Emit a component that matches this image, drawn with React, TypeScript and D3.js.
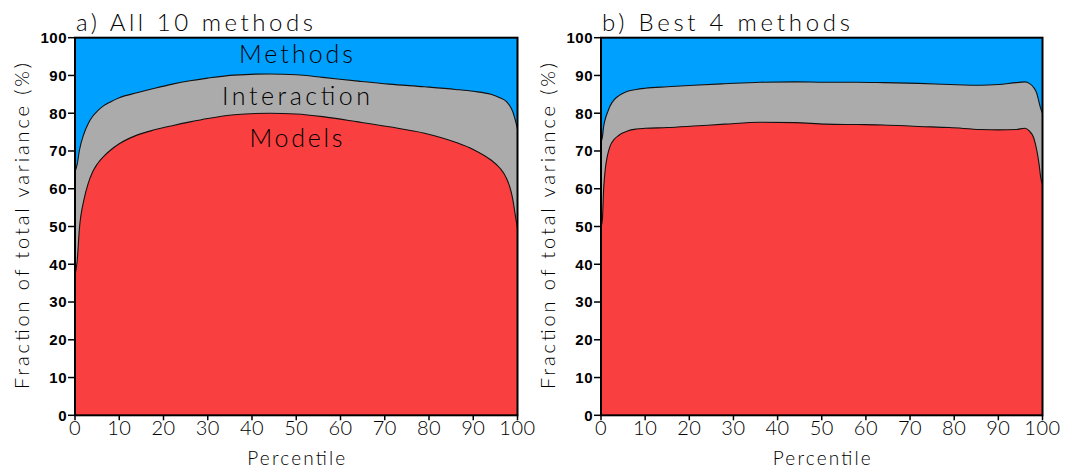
import React from "react";
import * as d3 from "d3";

const pctA = [0, 0.5, 1, 2, 3, 4, 5, 6.5, 8, 10, 14, 18, 22, 26, 30, 36, 44, 50, 56, 64, 71, 79, 86, 90, 94, 96, 97.5, 98.5, 99, 99.5, 100];
const modelsA = [37, 41, 49.5, 57, 61.5, 64.5, 66.5, 68.6, 70.2, 71.9, 74.2, 75.6, 76.7, 77.7, 78.6, 79.6, 80, 79.8, 79.1, 77.7, 76.4, 74.7, 72.3, 70.4, 67.6, 65.5, 62.8, 59.5, 56.8, 53, 49.5];
const totalA = [64.5, 66.5, 70.2, 74.5, 77.3, 79.2, 80.5, 82, 83, 84.1, 85.4, 86.6, 87.7, 88.6, 89.3, 90.1, 90.4, 90.2, 89.5, 88.5, 87.7, 87, 86.3, 85.8, 85.0, 84.1, 83.1, 81.5, 80.2, 78.2, 75.8];

const pctB = [0, 0.3, 0.6, 1, 1.5, 2, 3, 4, 5, 6, 8, 10, 15, 21, 28, 36, 44, 51, 58, 64, 72, 79, 86, 90, 94, 96, 97, 98, 98.7, 99.2, 99.6, 100];
const modelsB = [50, 51.7, 60, 65.5, 69, 71.1, 73.1, 74.1, 74.8, 75.3, 75.8, 76, 76.2, 76.6, 77.1, 77.6, 77.5, 77.1, 77.0, 76.9, 76.5, 76.2, 75.7, 75.6, 75.7, 76, 75.3, 73.5, 70.2, 66.7, 63, 61];
const totalB = [72.5, 73.6, 76.5, 78.6, 80.3, 81.8, 83.6, 84.6, 85.3, 85.8, 86.3, 86.6, 87, 87.4, 87.8, 88.2, 88.3, 88.2, 88.2, 88.1, 87.9, 87.6, 87.4, 87.6, 88.1, 88.3, 87.9, 86.8, 85.3, 83, 81.2, 80];

const xTicks = [0, 10, 20, 30, 40, 50, 60, 70, 80, 90, 100];
const yTicks = [0, 10, 20, 30, 40, 50, 60, 70, 80, 90, 100];

const panelTitles = ["a) All 10 methods", "b) Best 4 methods"];
const regionLabels = ["Methods", "Interaction", "Models"];
const xLabel = "Percentile";
const yLabel = "Fraction of total variance (%)";

const BLUE = "#00A0FF";
const GRAY = "#ABABAB";
const RED = "#F93F3F";
const LIGHT = "Lato, 'Open Sans', 'DejaVu Sans', sans-serif";
const BOLD = "'Liberation Sans', Arial, sans-serif";

type PanelProps = {
  left: number;
  right: number;
  pct: number[];
  models: number[];
  total: number[];
  title: string;
  titleLen: number;
  showLabels: boolean;
};

function Panel({ left, right, pct, models, total, title, titleLen, showLabels }: PanelProps) {
  const top = 37.7;
  const bottom = 415.3;
  const x = d3.scaleLinear().domain([0, 100]).range([left, right]);
  const y = d3.scaleLinear().domain([0, 100]).range([bottom, top]);
  const idx = pct.map((_, i) => i);
  const curve = d3.curveMonotoneX;
  const grayArea = d3.area<number>().x((i) => x(pct[i])).y0(y(0)).y1((i) => y(total[i])).curve(curve);
  const redArea = d3.area<number>().x((i) => x(pct[i])).y0(y(0)).y1((i) => y(models[i])).curve(curve);
  const totalLine = d3.line<number>().x((i) => x(pct[i])).y((i) => y(total[i])).curve(curve);
  const modelLine = d3.line<number>().x((i) => x(pct[i])).y((i) => y(models[i])).curve(curve);
  const cx = (left + right) / 2;
  return (
    <g>
      <rect x={left} y={top} width={right - left} height={bottom - top} fill={BLUE} />
      <path d={grayArea(idx) || ""} fill={GRAY} />
      <path d={redArea(idx) || ""} fill={RED} />
      <path d={totalLine(idx) || ""} fill="none" stroke="#111" strokeWidth={1.1} />
      <path d={modelLine(idx) || ""} fill="none" stroke="#111" strokeWidth={1.1} />
      <rect x={left} y={top} width={right - left} height={bottom - top} fill="none" stroke="#000" strokeWidth={2} />
      {yTicks.map((t) => (
        <g key={"y" + t}>
          <line x1={left - 7} x2={left} y1={y(t)} y2={y(t)} stroke="#000" strokeWidth={1.5} />
          <text x={left - 8} y={y(t)} dy="0.36em" textAnchor="end" fontFamily={BOLD} fontWeight="bold" fontSize={15} letterSpacing={0.5}>
            {t}
          </text>
        </g>
      ))}
      {xTicks.map((t) => (
        <g key={"x" + t}>
          <line x1={x(t)} x2={x(t)} y1={bottom} y2={bottom + 5} stroke="#000" strokeWidth={1.5} />
          <text x={x(t)} y={435} textAnchor="middle" fontFamily={LIGHT} fontWeight={300} fontSize={20} letterSpacing={0.5}>
            {t}
          </text>
        </g>
      ))}
      <text x={cx} y={465} textAnchor="middle" fontFamily={LIGHT} fontWeight={300} fontSize={19} textLength={98} lengthAdjust="spacing">
        {xLabel}
      </text>
      <text
        transform={`translate(${left - 46},226) rotate(-90)`}
        textAnchor="middle"
        fontFamily={LIGHT}
        fontWeight={300}
        fontSize={20}
        textLength={326}
        lengthAdjust="spacing"
      >
        {yLabel}
      </text>
      <text x={left + 1} y={31} fontFamily={LIGHT} fontWeight={300} fontSize={24} textLength={titleLen} lengthAdjust="spacing">
        {title}
      </text>
      {showLabels && (
        <g fontFamily={LIGHT} fontWeight={300} fontSize={25} textAnchor="middle">
          <text x={296} y={63} textLength={114} lengthAdjust="spacing">{regionLabels[0]}</text>
          <text x={296} y={105} textLength={148} lengthAdjust="spacing">{regionLabels[1]}</text>
          <text x={296} y={147} textLength={93} lengthAdjust="spacing">{regionLabels[2]}</text>
        </g>
      )}
    </g>
  );
}

export default function App() {
  return (
    <svg width={1068} height={471} style={{ position: "absolute", left: 0, top: 0, background: "#fff" }}>
      <rect width={1068} height={471} fill="#fff" />
      <Panel left={75} right={517.5} pct={pctA} models={modelsA} total={totalA} title={panelTitles[0]} titleLen={237} showLabels={true} />
      <Panel left={601} right={1042.5} pct={pctB} models={modelsB} total={totalB} title={panelTitles[1]} titleLen={248} showLabels={false} />
    </svg>
  );
}
